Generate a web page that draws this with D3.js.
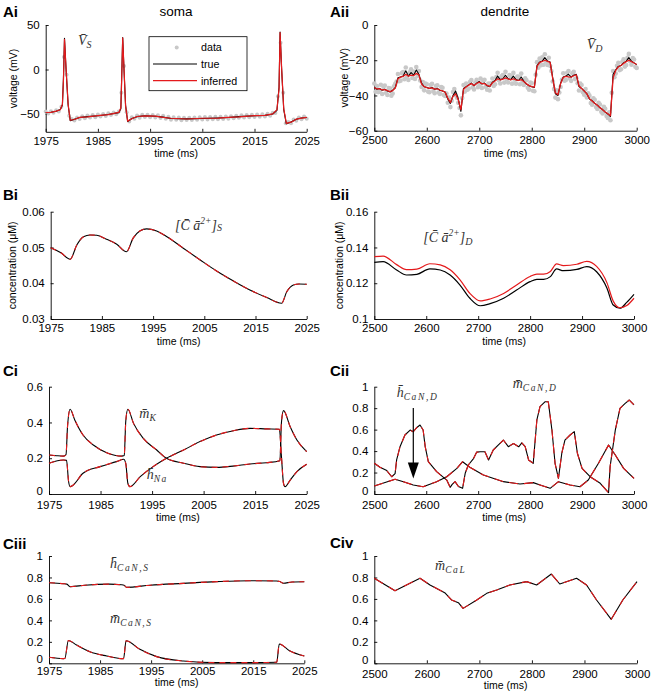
<!DOCTYPE html>
<html><head><meta charset="utf-8">
<script src="https://cdn.jsdelivr.net/npm/d3@7"></script>
<style>
body{margin:0;background:#fff}
svg text{font-family:"Liberation Sans",Arial,sans-serif;fill:#000}
.ann{font-family:"Liberation Serif","DejaVu Serif",serif !important;font-style:italic;fill:#333 !important}
</style></head>
<body><svg id="c" width="654" height="697"></svg>
<script>
// ---------- Panel Ai : soma voltage ----------
const aiTime=[1975,1976,1977,1977.8,1978.2,1978.4,1978.6,1978.9,1979.3,1979.7,1980.5,1981.5,1983,1985,1987,1989,1989.4,1989.55,1989.75,1990.0,1990.3,1990.7,1991.5,1992.5,1994,1996,1997.5,1999,2002,2005,2008,2010,2012,2015,2017,2018.5,2019.3,2019.7,2019.9,2020.2,2020.6,2021.1,2022,2023,2024,2025];
const aiTrue=[-48.5,-48,-47,-45,-40,-10,35,0,-40,-57.5,-56,-54,-53,-52,-50.5,-48.5,-44,-10,36,0,-40,-58.5,-55,-53,-52,-52.5,-53.5,-55,-55.5,-55,-54.5,-54,-53,-52,-51.5,-50,-46,-20,42,0,-45,-61,-59,-56,-54.5,-54];
const aiInferred=[-48.3,-48.1,-46.8,-45.2,-39,-12,34,1,-39,-57,-56.2,-53.8,-53.2,-51.8,-50.7,-48.2,-43,-12,35.5,1,-41,-58,-55.3,-52.8,-52.2,-52.3,-53.7,-54.8,-55.6,-54.8,-54.6,-53.8,-53.2,-51.8,-51.6,-49.8,-45,-22,41.5,1,-44,-60.5,-59.2,-55.8,-54.6,-53.8];
const aiDataStart=1975, aiDataStep=0.5;
const aiData=[-47.2,-49.5,-47.0,-48.6,-45.8,-47.3,-41.8,14,-6,-52,
-55.5,-57.4,-54,-55.6,-52.4,-54.7,-51.8,-53.9,-51.2,-53.6,
-50.6,-52.8,-49.9,-52.3,-49.1,-51.2,-48.3,-50.4,-47.1,-26,
4,-48,-58.5,-53.7,-55.4,-51.6,-54.1,-50.9,-53.5,-50.8,
-53.6,-51,-53.9,-51.5,-54.6,-52.1,-55.3,-53.2,-56.4,-53.7,
-56.6,-54,-56.9,-54.1,-56.8,-54.2,-56.7,-53.9,-56.5,-53.6,
-56.3,-53.5,-56.2,-53.4,-56,-53.2,-55.9,-53.1,-55.6,-52.8,
-55.3,-52.4,-54.9,-51.9,-54.3,-51.5,-54,-51.2,-53.7,-50.8,
-53.4,-50.6,-53.1,-50.3,-52.9,-49.7,-51.9,-48.6,-49,-30,
30,-26,-60.5,-59,-60.4,-56.1,-57.5,-53.9,-55.9,-52.8,
-55.3];

// ---------- Panel Aii : dendrite voltage ----------
const aiiStart=2500, aiiStep=5;
const aiiTrue=[-35.5,-36.5,-36,-37,-36.5,-37.5,-38,-37,-35.5,-30,
-29.5,-29,-26,-29,-27,-28.5,-25.5,-28,-33,-35,
-35.5,-36,-35.5,-36.5,-36,-37,-37.5,-38,-42,-44.5,
-40,-37.5,-42,-49,-36,-35,-34,-33,-34.5,-33,
-32,-33.5,-33,-34.5,-35,-32.5,-31.5,-29,-31,-30.5,
-28.5,-30.5,-31,-29,-31,-31.5,-29.5,-32,-33.5,-34.5,
-35,-35.5,-23,-21,-20.5,-18.5,-20.5,-21,-30,-39,
-40,-33,-29.5,-29,-28,-29.5,-28.5,-28,-35,-36,
-37.5,-39,-42,-43,-44.5,-45.5,-47,-48,-49.5,-50.5,
-52,-28,-25.5,-23.5,-23,-21.5,-20.5,-18.5,-20.5,-21.5,
-22.5];
const aiiInferred=[-35.5,-36.3,-36.2,-36.8,-36.7,-37.3,-37.8,-37.2,-35.8,-30.5,
-29.6,-29.2,-28,-29,-28.5,-28.7,-27.5,-28.3,-33.5,-35,
-35.6,-35.9,-35.7,-36.4,-36.2,-36.9,-37.4,-38.2,-41.5,-44,
-40.5,-39,-42.5,-48,-36.5,-35.2,-34.1,-33.3,-34.3,-33.2,
-32.4,-33.3,-33.3,-34.3,-34.8,-32.8,-31.8,-30.5,-31.2,-30.7,
-30,-30.6,-31.1,-30.5,-31.1,-31.5,-31,-32.1,-33.4,-34.4,
-35,-35.3,-23.5,-21.3,-20.7,-20,-20.6,-21.2,-30.5,-38.5,
-39.5,-33.3,-29.7,-29.2,-29.5,-29.6,-28.8,-28.3,-34.5,-36,
-37.4,-39.1,-41.8,-43.1,-44.4,-45.6,-46.9,-48.1,-49.4,-50.4,
-51.5,-30,-25.8,-23.8,-23,-21.8,-20.8,-20,-20.8,-21.6,
-22.4];
const aiiDataStep=2.5;
const aiiData=[-33.2,-37.9,-34.6,-38.1,-37.8,-33.9,-39.2,-35.1,-34.3,-38.6,
-39.7,-35.8,-36.1,-40.2,-38.9,-34.8,-33.4,-32.1,-27.8,-31.9,
-31.6,-27.3,-26.7,-30.8,-24.1,-29.5,-31.2,-26.8,-25.2,-30.1,
-26.4,-30.6,-23.8,-28.9,-26.1,-31.5,-35.2,-32.4,-37.1,-33.2,
-33.6,-37.8,-38.2,-34.1,-33.4,-37.5,-38.7,-34.6,-34.2,-38.3,
-39.1,-35.2,-35.6,-39.7,-40.3,-38.9,-44.1,-41.2,-46.6,-43.0,
-38.1,-36.4,-39.8,-41.3,-44.2,-47.1,-51.3,-41.5,-34.1,-37.8,
-33.2,-36.7,-36.1,-32.3,-31.2,-35.4,-36.6,-32.7,-31.1,-35.3,
-34.2,-30.4,-35.7,-31.6,-31.1,-35.2,-36.7,-33.2,-37.2,-33.1,
-30.4,-34.6,-33.7,-29.6,-27.1,-31.3,-33.2,-29.1,-28.4,-32.7,
-26.6,-30.8,-32.6,-28.4,-29.1,-33.3,-27.2,-31.1,-33.3,-29.2,
-29.4,-33.6,-27.6,-31.8,-34.1,-30.2,-31.4,-35.6,-36.7,-32.6,
-33.1,-37.3,-37.6,-28.2,-21.1,-24.3,-19.1,-22.8,-18.4,-22.6,
-16.6,-20.8,-22.7,-18.6,-23.2,-26.1,-32.1,-36.4,-41.2,-37.1,
-42.1,-38.3,-35.2,-31.1,-27.4,-31.6,-31.2,-27.1,-26.1,-30.3,
-31.7,-27.4,-26.6,-30.7,-30.2,-33.1,-37.2,-33.3,-34.1,-38.2,
-39.6,-36.3,-41.1,-38.8,-40.1,-44.3,-45.2,-41.6,-42.4,-46.6,
-47.7,-44.1,-45.1,-49.2,-50.2,-46.4,-47.6,-51.7,-52.8,-49.6,
-54.1,-38.5,-26.1,-29.7,-27.6,-23.2,-21.4,-25.6,-25.1,-21.0,
-19.4,-23.6,-22.7,-18.6,-16.4,-20.6,-22.6,-18.7,-19.6,-23.7,
-24.4];

// ---------- Panel Bi : soma calcium ----------
const biTime=[1975,1977,1978.8,1980.1,1981.4,1982.7,1984,1985.9,1987.9,1989.8,1991.1,1992.4,1993.75,1995.7,1997.7,2000.9,2004.2,2007.4,2010.7,2013.9,2017.2,2020.1,2021.1,2022.4,2023.5,2025];
const biConc=[0.0499,0.0485,0.0467,0.0507,0.0530,0.0535,0.0534,0.0523,0.0509,0.0488,0.0526,0.0546,0.0552,0.0546,0.0530,0.0498,0.0465,0.0434,0.0406,0.0381,0.0360,0.0344,0.0376,0.0395,0.0398,0.0397];

// ---------- Panel Bii : dendrite calcium ----------
const biiTime=[2500,2517,2543,2562,2582,2607,2627,2646,2665,2684,2704,2723,2749,2774,2800,2813,2826,2839,2851,2864,2890,2909,2928,2948,2960,2973,2986,3000];
const biiTrue=[0.1317,0.1321,0.1274,0.1246,0.1250,0.1280,0.1274,0.1246,0.1190,0.1116,0.1074,0.1086,0.1116,0.1162,0.1209,0.1222,0.1222,0.1237,0.1280,0.1270,0.1277,0.1293,0.1264,0.1172,0.1078,0.1060,0.1093,0.1138];
const biiInferred=[0.1349,0.1352,0.1304,0.1276,0.1279,0.1309,0.1303,0.1275,0.1219,0.1143,0.1101,0.1112,0.1143,0.1190,0.1238,0.1251,0.1251,0.1266,0.1308,0.1299,0.1306,0.1322,0.1294,0.1202,0.1100,0.1063,0.1075,0.1116];

// ---------- Panel Ci : mK, hNa ----------
const ciKTime=[1975,1976.5,1977.8,1978.3,1978.6,1979.1,1980,1981.6,1983.6,1986.2,1989.1,1989.6,1989.9,1990.3,1991.4,1993.3,1995.9,1997.8,2001.1,2004.3,2007.5,2010.7,2014,2017.2,2019.8,2020.1,2020.5,2021.8,2023.1,2025];
const ciMK=[0.218,0.214,0.212,0.22,0.38,0.474,0.414,0.330,0.274,0.231,0.212,0.215,0.41,0.474,0.395,0.311,0.246,0.200,0.172,0.153,0.149,0.156,0.168,0.175,0.186,0.40,0.466,0.376,0.302,0.237];
const ciNaTime=[1975,1977.8,1978.4,1978.8,1979.1,1979.7,1981.6,1984.9,1988.1,1989.5,1989.9,1990.3,1990.7,1992.7,1995.2,1997.8,2001.1,2004.3,2007.5,2010.8,2014,2017.2,2019.7,2020.1,2020.5,2020.8,2021.8,2023.1,2025];
const ciHNa=[0.172,0.19,0.188,0.07,0.041,0.05,0.116,0.153,0.181,0.194,0.17,0.06,0.041,0.097,0.153,0.200,0.246,0.293,0.330,0.354,0.367,0.364,0.362,0.21,0.06,0.041,0.078,0.125,0.166];

// ---------- Panel Cii : mCaN,D, hCaN,D ----------
const ciiMTime=[2500,2511,2524,2533.5,2540,2543,2549.5,2559,2569,2575,2582,2588,2594,2598,2604,2620,2639.5,2646,2650,2655.5,2662,2670,2675,2681,2691,2697,2704,2713,2720,2729,2739,2748.5,2758,2768,2778,2784,2790.5,2797,2806,2813,2819,2829,2835,2842,2848,2854.5,2861,2867,2877,2885,2891,2900,2915.5,2935,2951,2954,2964,2973,2983,2991,3000];
const ciiM=[0.286,0.249,0.218,0.161,0.19,0.317,0.441,0.55,0.596,0.58,0.62,0.643,0.596,0.441,0.301,0.208,0.13,0.062,0.09,0.115,0.07,0.053,0.193,0.270,0.33,0.39,0.394,0.394,0.317,0.41,0.457,0.503,0.441,0.47,0.44,0.476,0.441,0.317,0.286,0.69,0.814,0.86,0.86,0.596,0.286,0.146,0.38,0.503,0.55,0.581,0.38,0.239,0.161,0.1,0.012,0.255,0.596,0.798,0.845,0.876,0.83];
const ciiHTime=[2500,2540,2556,2575,2594,2620,2639.5,2659,2670,2684,2710,2748.5,2780.5,2806,2822,2838.5,2854.5,2877,2896,2912,2931.6,2951,2964,2980,3000];
const ciiH=[0.075,0.137,0.115,0.084,0.068,0.115,0.161,0.239,0.301,0.249,0.177,0.115,0.093,0.106,0.08,0.053,0.115,0.084,0.068,0.13,0.286,0.457,0.363,0.239,0.146];

// ---------- Panel Ciii : hCaN,S, mCaN,S ----------
const ciiiHTime=[1975,1977.8,1978.5,1979.1,1982,1986.8,1989.2,1989.7,1990.2,1994.8,2001.3,2007.8,2014.4,2019.6,2020.2,2020.9,2022.6,2025];
const ciiiH=[0.751,0.742,0.738,0.714,0.728,0.738,0.732,0.728,0.708,0.728,0.745,0.761,0.770,0.767,0.762,0.746,0.758,0.760];
const ciiiMTime=[1975,1977.8,1978.1,1978.8,1980.4,1983,1986.3,1989.2,1989.6,1990.1,1992.8,1996.1,2001.3,2007.8,2014.4,2019.6,2020.1,2022.1,2025];
const ciiiM=[0.056,0.044,0.045,0.212,0.17,0.108,0.068,0.044,0.044,0.21,0.13,0.062,0.021,0.006,0.006,0.01,0.18,0.117,0.068];

// ---------- Panel Civ : mCaL ----------
const civTime=[2500,2539.4,2587,2606,2634,2647,2660,2669,2695,2714,2733,2758,2790,2809,2837,2853,2885,2904,2923,2951,2973,3000];
const civM=[0.792,0.677,0.792,0.73,0.658,0.59,0.565,0.512,0.59,0.652,0.683,0.73,0.761,0.73,0.832,0.739,0.792,0.73,0.59,0.41,0.59,0.761];

// ---------- tick labels ----------
const somaTicks=[1975,1985,1995,2005,2015,2025];
const dendTicks=[2500,2600,2700,2800,2900,3000];

const RED="#e41a1c", GRAY="#c8c8c8";
const svg=d3.select("#c");
const fmt=d=>String(+(+d).toFixed(3)).replace("-","\u2212");

function panel(o){
  const x=d3.scaleLinear().domain(o.xd).range([o.l,o.r]);
  const y=d3.scaleLinear().domain(o.yd).range([o.b,o.t]);
  const g=svg.append("g");
  const xa=g.append("g").attr("transform",`translate(0,${o.b})`)
    .call(d3.axisBottom(x).tickValues(o.xt).tickSizeInner(-3).tickSizeOuter(0).tickPadding(o.xpad||5).tickFormat(d=>d));
  const ya=g.append("g").attr("transform",`translate(${o.l},0)`)
    .call(d3.axisLeft(y).tickValues(o.yt).tickSizeInner(-3).tickSizeOuter(0).tickPadding(6).tickFormat(fmt));
  [xa,ya].forEach(a=>{a.attr("font-size",11.5).attr("font-family","Liberation Sans, Arial, sans-serif");
    a.selectAll("path,line").attr("stroke","#000").attr("stroke-width",0.9);});
  if(o.y0up) ya.selectAll(".tick text").filter(d=>d===0).attr("dy",o.y0up);
  g.append("text").attr("x",(o.l+o.r)/2).attr("y",o.xlY).attr("text-anchor","middle").attr("font-size",10.5).text("time (ms)");
  if(o.ylab){g.append("text").attr("transform",`translate(${o.ylX},${(o.t+o.b)/2}) rotate(-90)`).attr("text-anchor","middle").attr("font-size",10.5).text(o.ylab);}
  return {x,y,g};
}
function line(p,xs,ys,color,w,dash,curve){
  const l=d3.line().x((d,i)=>p.x(xs[i])).y(d=>p.y(d)).curve(curve||d3.curveLinear);
  const path=p.g.append("path").datum(ys).attr("d",l).attr("fill","none").attr("stroke",color).attr("stroke-width",w).attr("stroke-linejoin","round");
  if(dash) path.attr("stroke-dasharray",dash);
}
function ann(x,y,segs){
  const t=svg.append("text").attr("class","ann").attr("x",x).attr("y",y);
  segs.forEach(s=>t.append("tspan").attr("dy",s.dy||0).attr("font-size",s.fs||14).attr("letter-spacing",s.ls||0).text(s.t));
}
function label(x,y,t){svg.append("text").attr("x",x).attr("y",y).attr("font-size",15).attr("font-weight","bold").text(t);}

// Ai
const pAi=panel({xd:[1975,2025],yd:[-70,50],l:45.7,r:306.7,t:25,b:131.8,xt:somaTicks,yt:[-50,0,50],xlY:157,ylab:"voltage (mV)",ylX:16.5});
pAi.g.append("g").selectAll("circle").data(aiData).join("circle")
  .attr("cx",(d,i)=>pAi.x(aiDataStart+i*aiDataStep)).attr("cy",d=>pAi.y(d)).attr("r",2).attr("fill",GRAY);
line(pAi,aiTime,aiTrue,"#000",1.1);
line(pAi,aiTime,aiInferred,RED,1.2);
// Aii
const pAii=panel({xd:[2500,3000],yd:[-60,0],l:374.3,r:636.7,t:25,b:130.7,xt:dendTicks,yt:[-60,-40,-20,0],xlY:157,ylab:"voltage (mV)",ylX:347.5});
pAii.g.append("g").selectAll("circle").data(aiiData).join("circle")
  .attr("cx",(d,i)=>pAii.x(aiiStart+i*aiiDataStep)).attr("cy",d=>pAii.y(d)).attr("r",2.3).attr("fill",GRAY);
const aiiT=aiiTrue.map((d,i)=>aiiStart+i*aiiStep);
line(pAii,aiiT,aiiTrue,"#000",1.1);
line(pAii,aiiT,aiiInferred,RED,1.3);
// Bi
const pBi=panel({xd:[1975,2025],yd:[0.03,0.06],l:50.7,r:306.7,t:211.7,b:319,xt:somaTicks,yt:[0.03,0.04,0.05,0.06],xlY:345,ylab:"concentration (\u03bcM)",ylX:15.5});
line(pBi,biTime,biConc,"#000",1.1,null,d3.curveMonotoneX);
line(pBi,biTime,biConc,RED,1.1,"6,5",d3.curveMonotoneX);
// Bii
const pBii=panel({xd:[2500,3000],yd:[0.1,0.16],l:374.3,r:634,t:211.7,b:319,xt:dendTicks,yt:[0.1,0.12,0.14,0.16],xlY:345,ylab:"concentration (\u03bcM)",ylX:342.5});
line(pBii,biiTime,biiTrue,"#000",1.2,null,d3.curveMonotoneX);
line(pBii,biiTime,biiInferred,RED,1.2,null,d3.curveMonotoneX);
// Ci
const pCi=panel({xd:[1975,2025],yd:[0,0.6],l:49,r:306.7,t:386.7,b:494,xt:somaTicks,yt:[0,0.2,0.4,0.6],xlY:521,xpad:7,y0up:"0.05em"});
line(pCi,ciKTime,ciMK,"#000",1.1,null,d3.curveMonotoneX);
line(pCi,ciNaTime,ciHNa,"#000",1.1,null,d3.curveMonotoneX);
line(pCi,ciKTime,ciMK,RED,1.1,"6,5",d3.curveMonotoneX);
line(pCi,ciNaTime,ciHNa,RED,1.1,"6,5",d3.curveMonotoneX);
// Cii
const pCii=panel({xd:[2500,3000],yd:[0,1],l:374.3,r:634,t:386.7,b:494,xt:dendTicks,yt:[0,0.2,0.4,0.6,0.8,1],xlY:521,xpad:7,y0up:"0.05em"});
line(pCii,ciiMTime,ciiM,"#000",1.1);
line(pCii,ciiHTime,ciiH,"#000",1.1);
line(pCii,ciiMTime,ciiM,RED,1.1,"9,6");
line(pCii,ciiHTime,ciiH,RED,1.1,"9,6");
// Ciii
const pCiii=panel({xd:[1975,2025],yd:[0,1],l:49,r:304.3,t:556,b:663.3,xt:somaTicks,yt:[0,0.2,0.4,0.6,0.8,1],xlY:686,xpad:3.5,y0up:"-0.05em"});
line(pCiii,ciiiHTime,ciiiH,"#000",1.1,null,d3.curveMonotoneX);
line(pCiii,ciiiMTime,ciiiM,"#000",1.1,null,d3.curveMonotoneX);
line(pCiii,ciiiHTime,ciiiH,RED,1.1,"6,5",d3.curveMonotoneX);
line(pCiii,ciiiMTime,ciiiM,RED,1.1,"6,5",d3.curveMonotoneX);
// Civ
const pCiv=panel({xd:[2500,3000],yd:[0,1],l:374.3,r:637,t:556,b:663.3,xt:dendTicks,yt:[0,0.2,0.4,0.6,0.8,1],xlY:689,xpad:7,y0up:"0.05em"});
line(pCiv,civTime,civM,"#000",1.1);
line(pCiv,civTime,civM,RED,1.1,"10,7");

// arrow in Cii
svg.append("line").attr("x1",413.3).attr("y1",408).attr("x2",413.3).attr("y2",465).attr("stroke","#000").attr("stroke-width",1.2);
svg.append("path").attr("d","M407.8,462.5 L418.8,462.5 L413.3,478.5 Z").attr("fill","#000");

// legend in Ai
const lg=svg.append("g");
lg.append("rect").attr("x",149).attr("y",36.7).attr("width",98).attr("height",54).attr("fill","#fff").attr("stroke","#000").attr("stroke-width",0.8);
lg.append("circle").attr("cx",176.7).attr("cy",47.5).attr("r",2).attr("fill",GRAY);
lg.append("line").attr("x1",153).attr("x2",197).attr("y1",64).attr("y2",64).attr("stroke","#000").attr("stroke-width",1.1);
lg.append("line").attr("x1",153).attr("x2",197).attr("y1",80.7).attr("y2",80.7).attr("stroke",RED).attr("stroke-width",1.2);
[["data",47.5],["true",64],["inferred",80.7]].forEach(([t,yy])=>lg.append("text").attr("x",201).attr("y",yy+3.8).attr("font-size",10.7).text(t));

// titles & panel labels
svg.append("text").attr("x",176).attr("y",16).attr("text-anchor","middle").attr("font-size",13.5).text("soma");
svg.append("text").attr("x",505).attr("y",16).attr("text-anchor","middle").attr("font-size",13.5).text("dendrite");
label(3,17,"Ai");label(330,17,"Aii");label(3,200,"Bi");label(330,200,"Bii");
label(3,376,"Ci");label(330,376,"Cii");label(3,549,"Ciii");label(330,548,"Civ");

// annotations
ann(78,45,[{t:"V\u0304"},{t:"S",fs:10,dy:3}]);
ann(586.7,49,[{t:"V\u0304"},{t:"D",fs:10,dy:3}]);
ann(175,230,[{t:"[C\u0304 a\u0304"},{t:"2+",fs:9.5,dy:-6},{t:"]",dy:6},{t:"S",fs:10,dy:1}]);
ann(423.3,241.5,[{t:"[C\u0304 a\u0304"},{t:"2+",fs:9.5,dy:-6},{t:"]",dy:6},{t:"D",fs:10,dy:3}]);
ann(139.3,417.7,[{t:"m\u0304"},{t:"K",fs:9.5,dy:3,ls:1}]);
ann(146.7,479.3,[{t:"h\u0304"},{t:"Na",fs:9.5,dy:3,ls:1.5}]);
ann(396.7,396.7,[{t:"h\u0304"},{t:"CaN,D",fs:9.5,dy:3,ls:1.6}]);
ann(512.7,388.3,[{t:"m\u0304"},{t:"CaN,D",fs:9.5,dy:3,ls:1.6}]);
ann(110,568.3,[{t:"h\u0304"},{t:"CaN,S",fs:9.5,dy:3,ls:1.6}]);
ann(110,623.3,[{t:"m\u0304"},{t:"CaN,S",fs:9.5,dy:3,ls:1.6}]);
ann(435,570,[{t:"m\u0304"},{t:"CaL",fs:9.5,dy:3,ls:1.6}]);
</script></body></html>
